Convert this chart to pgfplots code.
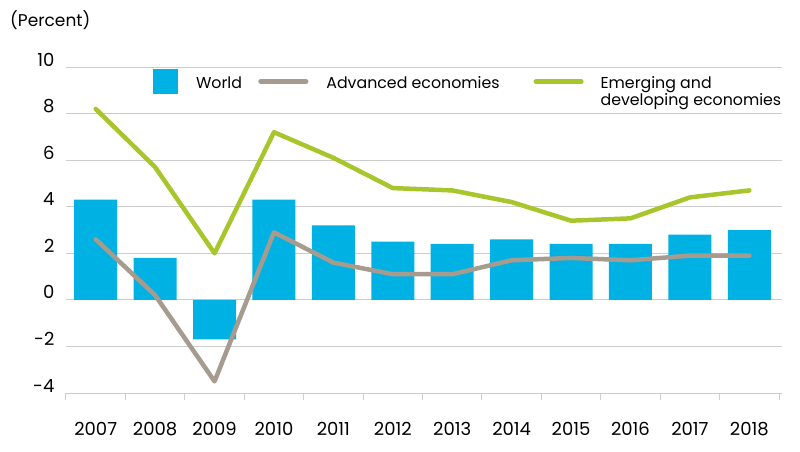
\documentclass[border=0pt]{standalone}
\usepackage{pgfplots}
\pgfplotsset{compat=1.18}
\usepackage{fontspec}
\setmainfont{Poppins}
\definecolor{wblue}{RGB}{0,178,227}
\definecolor{agray}{RGB}{165,155,143}
\definecolor{egreen}{RGB}{166,198,44}
\definecolor{gridc}{RGB}{205,205,205}
\newcommand{\cf}{\fontsize{17}{16.5}\selectfont}
\newcommand{\tf}{\fontsize{18}{18}\selectfont}
\newcommand{\lf}{\fontsize{15.8}{16.5}\selectfont}
\begin{document}
\begin{tikzpicture}
\begin{axis}[
  scale only axis, width=716pt, height=326pt,
  xmin=-0.5, xmax=11.55, ymin=-4, ymax=10,
  ytick={-4,-2,...,10},
  xtick={0,...,11},
  xticklabels={2007,2008,2009,2010,2011,2012,2013,2014,2015,2016,2017,2018},
  /pgf/number format/assume math mode=true,
  tick label style={font=\tf, text=black},
  major tick length=0pt,
  xticklabel style={yshift=-26pt},
  yticklabel style={anchor=base east, xshift=-8pt, yshift=1pt},
  extra x ticks={-0.5,0.5,...,11.5},
  extra x tick labels={},
  extra x tick style={grid=none, major tick length=7pt, tick align=outside, tick style={draw=gridc, line width=1pt}},
  axis x line*=bottom, axis y line*=left,
  y axis line style={draw=none},
  x axis line style={draw=gridc, line width=1pt},
  ymajorgrids, grid style={draw=gridc, line width=1pt},
  legend style={at={(axis description cs:0,1)}, anchor=north west, xshift=87pt, yshift=-2pt,
    draw=none, fill=none, inner sep=0pt, outer sep=0pt, legend columns=3, font=\lf,
    nodes={inner sep=0pt, outer sep=0pt},
    cells={align=left, anchor=west},
    /tikz/every even column/.append style={column sep=0pt},
    /tikz/every odd column/.append style={column sep=0pt}},
]
\addplot[ybar, bar width=43pt, fill=wblue, draw=none,
  legend image code/.code={\fill[wblue, draw=none] (0pt,-2.5pt) rectangle (25pt,22.5pt); \path[draw=none, fill=none] (0pt,-22.5pt) rectangle (43pt,22.5pt);}]
  coordinates {(0,4.3) (1,1.8) (2,-1.7) (3,4.3) (4,3.2) (5,2.5) (6,2.4) (7,2.6) (8,2.4) (9,2.4) (10,2.8) (11,3.0)};
\addlegendentry{World\\\vphantom{developing}}
\addplot[agray, line width=4.5pt, line join=round, line cap=round,
  legend image code/.code={\draw[agray, line width=4.5pt, line cap=round] (18.6pt,10pt) -- (64.2pt,10pt); \path[draw=none, fill=none] (0pt,-22.5pt) rectangle (84.4pt,22.5pt);}]
  coordinates {(0,2.6) (1,0.2) (2,-3.5) (3,2.9) (4,1.6) (5,1.1) (6,1.1) (7,1.7) (8,1.8) (9,1.7) (10,1.9) (11,1.9)};
\addlegendentry{Advanced economies\\\vphantom{developing}}
\addplot[egreen, line width=4.5pt, line join=round, line cap=round,
  legend image code/.code={\draw[egreen, line width=4.5pt, line cap=round] (36.25pt,10pt) -- (81.75pt,10pt); \path[draw=none, fill=none] (0pt,-22.5pt) rectangle (101pt,22.5pt);}]
  coordinates {(0,8.2) (1,5.7) (2,2.0) (3,7.2) (4,6.1) (5,4.8) (6,4.7) (7,4.2) (8,3.4) (9,3.5) (10,4.4) (11,4.7)};
\addlegendentry{Emerging and\\developing economies}
\end{axis}
\node[anchor=base west, inner sep=0pt, font=\cf] at (-56pt,367pt) {(Percent)};
\path (-66pt,-58pt) rectangle (734pt,393pt);
\end{tikzpicture}
\end{document}
